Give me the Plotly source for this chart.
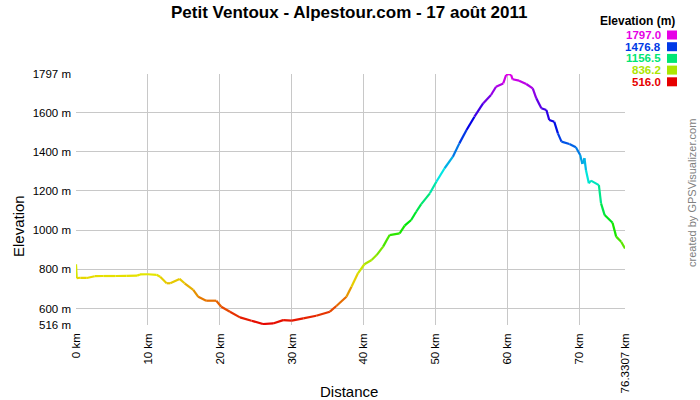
import colorsys
import plotly.graph_objects as go

# ---- data ----
distance_km = [0.0, 0.1, 0.6, 1.5, 2.6, 3.8, 5.5, 7.0, 8.5, 8.9, 10.0, 11.2, 11.7, 12.6, 13.1,
               14.4, 15.1, 16.3, 17.0, 18.1, 19.5, 20.2, 21.4, 22.8, 24.4, 26.0, 27.4, 28.8,
               30.0, 31.6, 33.4, 35.3, 36.2, 37.6, 38.3, 39.2, 40.1, 41.1, 41.8, 42.7, 43.6,
               45.0, 45.7, 46.6, 47.3, 48.0, 49.2, 50.1, 51.25, 52.4, 53.3, 54.3, 55.4, 56.6,
               57.7, 58.4, 59.4, 59.8, 60.2, 60.5, 60.7, 61.6, 62.6, 63.5, 64.0, 64.7, 65.4,
               65.8, 66.5, 67.0, 67.5, 68.6, 69.5, 70.1, 70.4, 70.7, 70.9, 71.3, 71.6, 72.7,
               73.0, 73.5, 74.6, 75.1, 75.8, 76.3307]
elevation_m = [826, 755, 757, 756, 765, 766, 766, 767, 768, 774, 775, 772, 762, 729, 729,
               751, 729, 695, 660, 640, 640, 609, 584, 555, 538, 521, 524, 541,
               538, 550, 563, 584, 613, 660, 711, 780, 826, 848, 873, 916, 975,
               984, 1023, 1052, 1094, 1133, 1188, 1247, 1316, 1375, 1443, 1511, 1579, 1647,
               1690, 1732, 1749, 1792, 1797, 1792, 1770, 1763, 1746, 1724, 1673, 1622, 1613,
               1562, 1553, 1494, 1452, 1440, 1423, 1384, 1338, 1367, 1307, 1239, 1253, 1230,
               1137, 1077, 1038, 967, 941, 907]

elev_min = 516.0
elev_max = 1797.0
legend_values = [1797.0, 1476.8, 1156.5, 836.2, 516.0]
y_tick_vals = [516, 600, 800, 1000, 1200, 1400, 1600, 1797]
y_tick_text = ["516 m", "600 m", "800 m", "1000 m", "1200 m", "1400 m", "1600 m", "1797 m"]
x_tick_vals = [0, 10, 20, 30, 40, 50, 60, 70, 76.3307]
x_tick_text = ["0 km", "10 km", "20 km", "30 km", "40 km", "50 km", "60 km", "70 km", "76.3307 km"]

W, H = 700, 400
ML, MR, MT, MB = 76, 75, 74, 75
PW, PH = W - ML - MR, H - MT - MB


def px_x(p):
    return (p - ML) / PW


def px_y(p):
    return (H - MB - p) / PH


def elev_color(e):
    frac = (e - elev_min) / (elev_max - elev_min)
    frac = max(0.0, min(1.0, frac))
    r, g, b = colorsys.hsv_to_rgb(frac * 300.0 / 360.0, 1.0, 0.9)
    return "rgb(%d,%d,%d)" % (round(r * 255), round(g * 255), round(b * 255))


fig = go.Figure()
for i in range(len(distance_km) - 1):
    xs = distance_km[i:i + 2]
    ys = elevation_m[i:i + 2]
    fig.add_trace(go.Scatter(
        x=xs, y=ys, mode="lines",
        line=dict(color=elev_color(sum(ys) / 2.0), width=2.2),
        showlegend=False, hoverinfo="skip",
    ))

font_family = "Liberation Sans, Arial, sans-serif"

fig.update_layout(
    width=W, height=H,
    margin=dict(l=ML, r=MR, t=MT, b=MB, autoexpand=False),
    paper_bgcolor="white", plot_bgcolor="white",
    font=dict(family=font_family, color="#000000", size=11),
    xaxis=dict(range=[0, 76.3307], tickvals=x_tick_vals, ticktext=x_tick_text,
               tickangle=-90, showgrid=True, gridcolor="#c8c8c8", gridwidth=1,
               zeroline=False, showline=False, ticks="", tickfont=dict(size=11.5),
               ticklabelstandoff=5, automargin=False),
    yaxis=dict(range=[516, 1797], tickvals=y_tick_vals, ticktext=y_tick_text,
               showgrid=True, gridcolor="#c8c8c8", gridwidth=1,
               zeroline=False, showline=False, ticks="", tickfont=dict(size=11.5),
               ticklabelstandoff=4, automargin=False),
)

# Title
fig.add_annotation(text="<b>Petit Ventoux - Alpestour.com - 17 août 2011</b>",
                   xref="paper", yref="paper", x=px_x(349), y=px_y(12),
                   xanchor="center", yanchor="middle", showarrow=False,
                   font=dict(size=17, family=font_family, color="#000000"))

# Axis titles
fig.add_annotation(text="Distance", xref="paper", yref="paper",
                   x=px_x(349), y=px_y(391), xanchor="center", yanchor="middle",
                   showarrow=False, font=dict(size=15, family=font_family, color="#000000"))
fig.add_annotation(text="Elevation", xref="paper", yref="paper",
                   x=px_x(18), y=px_y(226), xanchor="center", yanchor="middle",
                   textangle=-90, showarrow=False,
                   font=dict(size=15, family=font_family, color="#000000"))

# Legend (colour key)
fig.add_annotation(text="<b>Elevation (m)</b>", xref="paper", yref="paper",
                   x=px_x(676), y=px_y(21.5), xanchor="right", yanchor="middle",
                   showarrow=False, borderpad=0,
                   font=dict(size=12, family=font_family, color="#000000"))
for k, v in enumerate(legend_values):
    ypix = 35 + k * 11.7
    col = elev_color(v)
    fig.add_annotation(text="<b>%.1f</b>" % v, xref="paper", yref="paper",
                       x=px_x(662), y=px_y(ypix), xanchor="right", yanchor="middle",
                       showarrow=False, borderpad=0,
                       font=dict(size=11.5, family=font_family, color=col))
    fig.add_shape(type="rect", xref="paper", yref="paper",
                  x0=px_x(667), x1=px_x(677),
                  y0=px_y(ypix + 4.5), y1=px_y(ypix - 4.5),
                  fillcolor=col, line=dict(width=0))

fig.add_annotation(text="created by GPSVisualizer.com", xref="paper", yref="paper",
                   x=px_x(692), y=px_y(193), xanchor="center", yanchor="middle",
                   textangle=-90, showarrow=False,
                   font=dict(size=11, family=font_family, color="#808080"))

fig.write_html("out.html", config={"displayModeBar": False},
               post_script="document.body.style.margin='0';")
